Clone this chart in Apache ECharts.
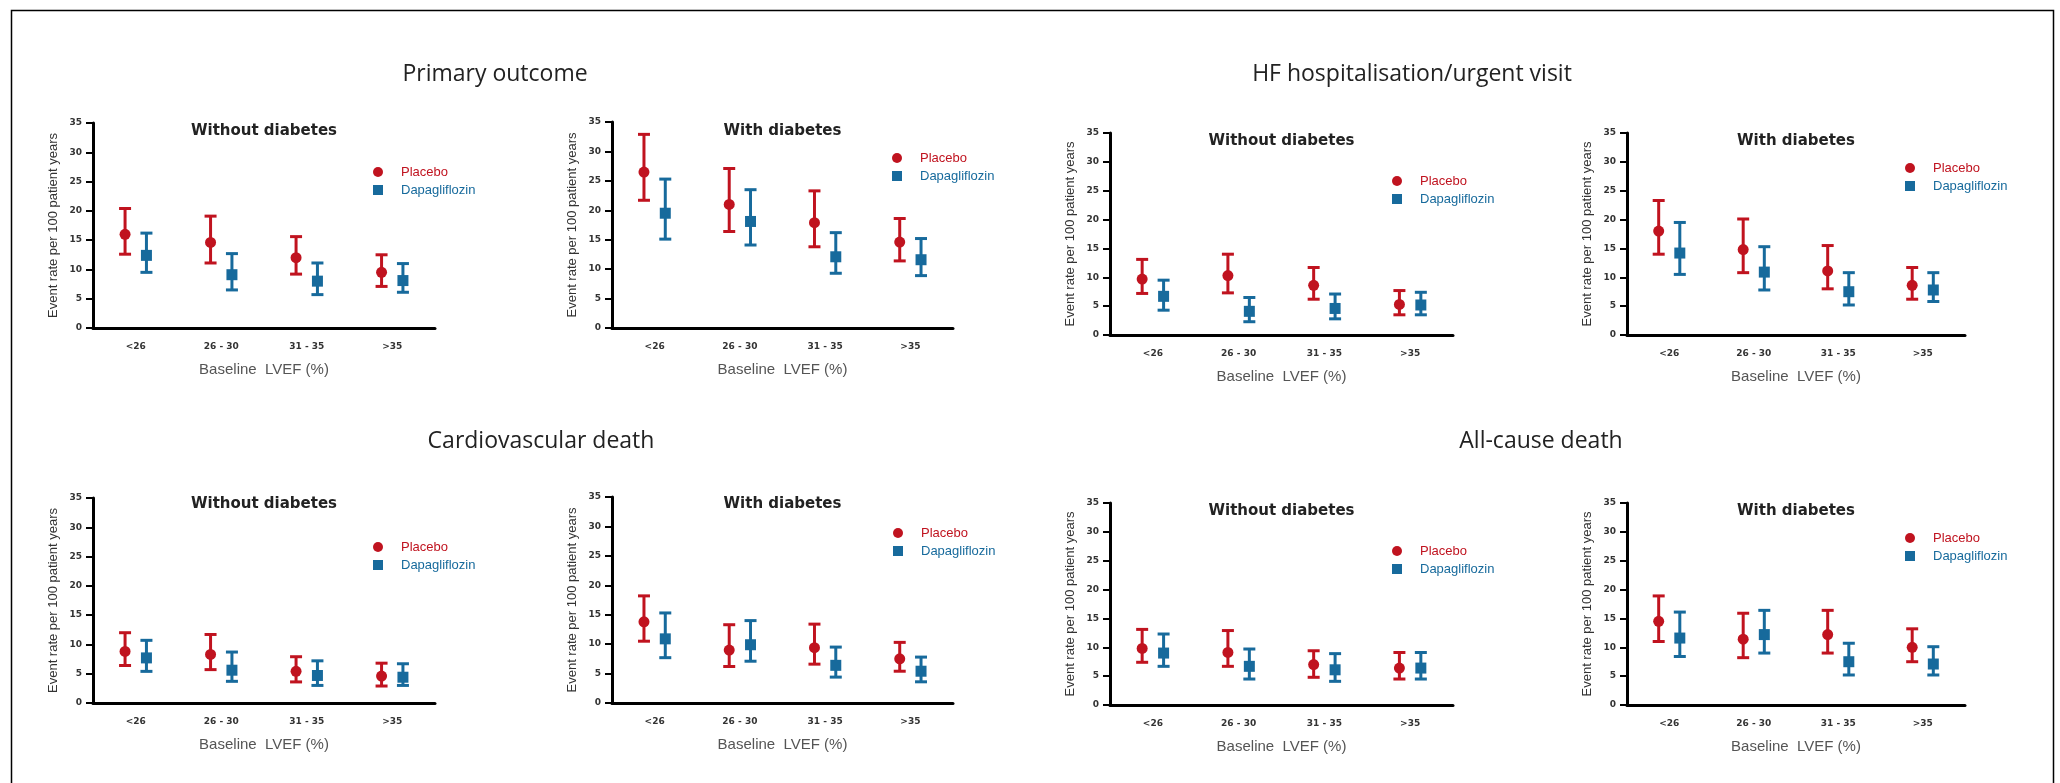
<!DOCTYPE html>
<html>
<head>
<meta charset="utf-8">
<script src="https://cdn.jsdelivr.net/npm/echarts@6/dist/echarts.min.js"></script>
<style>
  html, body { margin: 0; padding: 0; background: #fff; }
  #chart { width: 2060px; height: 783px; }
</style>
</head>
<body>
<div id="chart"></div>
<script>
// LVEF groups on the x axis
const lvefGroups = ['<26', '26 - 30', '31 - 35', '>35']
const yTicks = [0, 5, 10, 15, 20, 25, 30, 35]

// each entry: [rate, lower CI, upper CI] per 100 patient years
const primaryNoDmPlacebo = [[16.0, 12.6, 20.4], [14.6, 11.1, 19.1], [12.0, 9.2, 15.6], [9.5, 7.1, 12.5]]
const primaryNoDmDapa    = [[12.4, 9.5, 16.2], [9.1, 6.5, 12.7], [8.0, 5.7, 11.1], [8.1, 6.1, 11.0]]
const primaryDmPlacebo   = [[26.5, 21.7, 32.9], [21.0, 16.4, 27.1], [17.9, 13.8, 23.3], [14.6, 11.4, 18.6]]
const primaryDmDapa      = [[19.5, 15.1, 25.3], [18.1, 14.1, 23.5], [12.1, 9.3, 16.2], [11.6, 8.9, 15.2]]

const hfNoDmPlacebo = [[9.7, 7.2, 13.1], [10.3, 7.3, 14.0], [8.6, 6.2, 11.7], [5.3, 3.5, 7.7]]
const hfNoDmDapa    = [[6.7, 4.3, 9.5], [4.1, 2.3, 6.5], [4.6, 2.8, 7.1], [5.2, 3.5, 7.4]]
const hfDmPlacebo   = [[18.0, 14.0, 23.3], [14.8, 10.8, 20.1], [11.1, 8.0, 15.5], [8.6, 6.2, 11.7]]
const hfDmDapa      = [[14.2, 10.5, 19.5], [10.9, 7.8, 15.3], [7.5, 5.2, 10.8], [7.8, 5.8, 10.8]]

const cvNoDmPlacebo = [[8.8, 6.4, 12.0], [8.3, 5.7, 11.7], [5.4, 3.6, 7.9], [4.6, 2.9, 6.8]]
const cvNoDmDapa    = [[7.7, 5.4, 10.7], [5.6, 3.7, 8.7], [4.7, 3.0, 7.2], [4.4, 3.0, 6.7]]
const cvDmPlacebo   = [[13.8, 10.5, 18.2], [9.0, 6.2, 13.3], [9.4, 6.6, 13.4], [7.5, 5.4, 10.3]]
const cvDmDapa      = [[10.9, 7.7, 15.3], [9.9, 7.1, 14.0], [6.4, 4.4, 9.5], [5.4, 3.6, 7.8]]

const acmNoDmPlacebo = [[9.8, 7.4, 13.1], [9.1, 6.7, 12.9], [7.0, 4.8, 9.4], [6.4, 4.5, 9.1]]
const acmNoDmDapa    = [[9.0, 6.7, 12.3], [6.7, 4.5, 9.7], [6.1, 4.1, 8.9], [6.4, 4.5, 9.1]]
const acmDmPlacebo   = [[14.5, 11.0, 18.9], [11.4, 8.2, 15.9], [12.2, 9.0, 16.4], [10.0, 7.5, 13.2]]
const acmDmDapa      = [[11.6, 8.4, 16.1], [12.2, 9.0, 16.4], [7.5, 5.2, 10.7], [7.1, 5.2, 10.1]]

const placeboColor = '#c0131f'
const dapaColor    = '#176a9c'

// outcome headings
const sections = [
  { text: 'Primary outcome',                 x: 495,  y: 63 },
  { text: 'HF hospitalisation/urgent visit', x: 1412, y: 63 },
  { text: 'Cardiovascular death',            x: 541,  y: 430 },
  { text: 'All-cause death',                 x: 1541, y: 430 },
]

// panel layout: grid box, subtitle, legend marker position
const panels = [
  { grid: [93, 123, 342, 205],  sub: 'Without diabetes', titleY: 124, leg: [378, 172],  p: primaryNoDmPlacebo, d: primaryNoDmDapa },
  { grid: [612, 122, 341, 206], sub: 'With diabetes',    titleY: 124, leg: [897, 158],  p: primaryDmPlacebo,   d: primaryDmDapa },
  { grid: [1110, 133, 343, 202], sub: 'Without diabetes', titleY: 134, leg: [1397, 181], p: hfNoDmPlacebo,     d: hfNoDmDapa },
  { grid: [1627, 133, 338, 202], sub: 'With diabetes',    titleY: 134, leg: [1910, 168], p: hfDmPlacebo,       d: hfDmDapa },
  { grid: [93, 498, 342, 205],  sub: 'Without diabetes', titleY: 497, leg: [378, 547],  p: cvNoDmPlacebo,      d: cvNoDmDapa },
  { grid: [612, 497, 341, 206], sub: 'With diabetes',    titleY: 497, leg: [898, 533],  p: cvDmPlacebo,        d: cvDmDapa },
  { grid: [1110, 503, 343, 202], sub: 'Without diabetes', titleY: 504, leg: [1397, 551], p: acmNoDmPlacebo,    d: acmNoDmDapa },
  { grid: [1627, 503, 338, 202], sub: 'With diabetes',    titleY: 504, leg: [1910, 538], p: acmDmPlacebo,      d: acmDmDapa },
]

// error bar + marker, shifted left/right inside the category band
function errorBar(shift, marker) {
  return function (params, api) {
    const cat = api.value(0)
    const pt = api.coord([cat, api.value(1)])
    const band = api.size([1, 0])[0]
    const x = pt[0] + shift * band
    const yLo = api.coord([cat, api.value(2)])[1]
    const yHi = api.coord([cat, api.value(3)])[1]
    const color = api.visual('color')
    const st = { stroke: color, lineWidth: 3 }
    const cap = 6
    const dot = marker === 'circle'
      ? { type: 'circle', shape: { cx: x, cy: pt[1], r: 5.5 }, style: { fill: color } }
      : { type: 'rect', shape: { x: x - 5.5, y: pt[1] - 5.5, width: 11, height: 11 }, style: { fill: color } }
    return {
      type: 'group',
      children: [
        { type: 'line', shape: { x1: x, y1: yHi, x2: x, y2: yLo }, style: st },
        { type: 'line', shape: { x1: x - cap, y1: yHi, x2: x + cap, y2: yHi }, style: st },
        { type: 'line', shape: { x1: x - cap, y1: yLo, x2: x + cap, y2: yLo }, style: st },
        dot,
      ],
    }
  }
}

const toRows = arr => arr.map((v, i) => [i, v[0], v[1], v[2]])

const titles = sections.map(s => ({
  text: s.text, left: s.x, top: s.y, textAlign: 'center', padding: 0,
  textStyle: { fontFamily: 'Open Sans', fontSize: 23, fontWeight: 'normal', color: '#222' },
}))
const grids = [], xAxes = [], yAxes = [], legends = [], series = []

panels.forEach((pn, i) => {
  const [l, t, w, h] = pn.grid
  grids.push({ left: l, top: t, width: w, height: h })
  titles.push({
    text: pn.sub, left: l + w / 2, top: pn.titleY, textAlign: 'center', padding: 0,
    textStyle: { fontFamily: 'DejaVu Sans', fontSize: 15, fontWeight: 'bold', color: '#222' },
  })
  xAxes.push({
    type: 'category', gridIndex: i, data: lvefGroups, boundaryGap: true,
    name: 'Baseline  LVEF (%)', nameLocation: 'middle', nameGap: 34,
    nameTextStyle: { fontFamily: 'Liberation Sans', fontSize: 15, color: '#555' },
    axisLine: { lineStyle: { color: '#000', width: 3 } },
    axisTick: { show: false },
    axisLabel: { interval: 0, margin: 14, fontFamily: 'DejaVu Sans', fontSize: 9, fontWeight: 'bold', color: '#333' },
    splitLine: { show: false },
  })
  yAxes.push({
    type: 'value', gridIndex: i, min: yTicks[0], max: yTicks[yTicks.length - 1], interval: 5,
    name: 'Event rate per 100 patient years', nameLocation: 'middle', nameGap: 33,
    nameTextStyle: { fontFamily: 'Liberation Sans', fontSize: 13, color: '#333' },
    axisLine: { show: true, lineStyle: { color: '#000', width: 3 } },
    axisTick: { show: true, length: 7, lineStyle: { color: '#000', width: 2 } },
    axisLabel: { margin: 11, fontFamily: 'DejaVu Sans', fontSize: 9, fontWeight: 'bold', color: '#333' },
    splitLine: { show: false },
  })
  legends.push({
    orient: 'vertical', left: pn.leg[0] - 5, top: pn.leg[1] - 7, padding: 0,
    itemWidth: 10, itemHeight: 10, itemGap: 4, selectedMode: false,
    data: [
      { name: 'Placebo', icon: 'circle', textStyle: { color: placeboColor } },
      { name: 'Dapagliflozin', icon: 'rect', textStyle: { color: dapaColor } },
    ],
    formatter: n => '{t|' + n + '}',
    textStyle: { fontFamily: 'Liberation Sans', fontSize: 13, lineHeight: 14, rich: { t: { padding: [0, 0, 0, 13] } } },
  })
  series.push({
    name: 'Placebo', type: 'custom', xAxisIndex: i, yAxisIndex: i,
    itemStyle: { color: placeboColor }, renderItem: errorBar(-0.125, 'circle'),
    encode: { x: 0, y: [1, 2, 3] }, data: toRows(pn.p),
  })
  series.push({
    name: 'Dapagliflozin', type: 'custom', xAxisIndex: i, yAxisIndex: i,
    itemStyle: { color: dapaColor }, renderItem: errorBar(0.125, 'rect'),
    encode: { x: 0, y: [1, 2, 3] }, data: toRows(pn.d),
  })
})

const chart = echarts.init(document.getElementById('chart'))
chart.setOption({
  animation: false,
  backgroundColor: '#fff',
  title: titles,
  grid: grids,
  xAxis: xAxes,
  yAxis: yAxes,
  legend: legends,
  series,
  graphic: [{
    type: 'rect', left: 9, top: 8, z: -1,
    shape: { width: 2042, height: 800 },
    style: { fill: 'none', stroke: '#000', lineWidth: 1.5 },
  }],
})
</script>
</body>
</html>
